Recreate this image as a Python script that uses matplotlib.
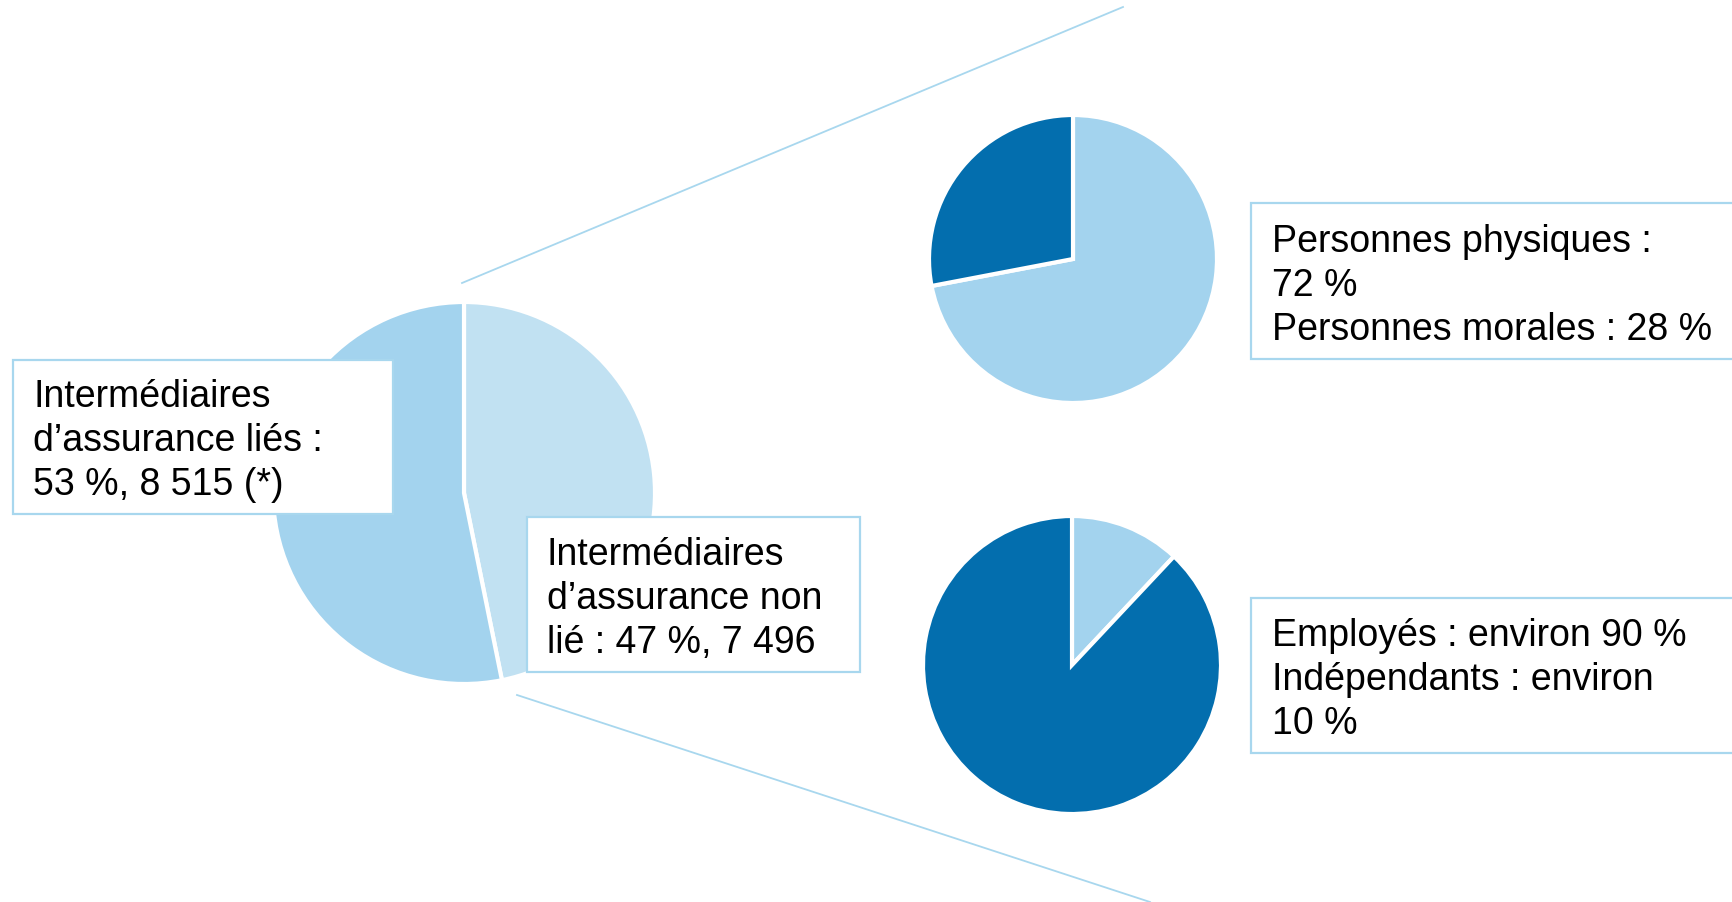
import matplotlib
matplotlib.use("Agg")
from matplotlib import pyplot as plt
from matplotlib.patches import Rectangle

plt.rcParams['font.family'] = ['Liberation Sans', 'DejaVu Sans']

# donnees
main_labels = ["Intermédiaires d'assurance non lié", "Intermédiaires d'assurance liés"]
main_counts = [7496, 8515]
pers_labels = ["Personnes physiques", "Personnes morales"]
pers_values = [72, 28]
emp_labels = ["Indépendants", "Employés"]
emp_values = [12, 88]

txt_lies = "Intermédiaires\nd’assurance liés :\n53 %, 8 515 (*)"
txt_nonlie = "Intermédiaires\nd’assurance non\nlié : 47 %, 7 496"
txt_pers = "Personnes physiques :\n72 %\nPersonnes morales : 28 %"
txt_emp = "Employés : environ 90 %\nIndépendants : environ\n10 %"

DARK = "#036EAE"
LIGHT = "#A3D3EE"
LIGHTER = "#C1E1F2"
EDGE = "#A8D7EE"

W, H = 1732, 903
fig = plt.figure(figsize=(W / 100, H / 100), dpi=100)
ax = fig.add_axes([0, 0, 1, 1])

def py(y):
    # pixel (depuis le haut) -> donnees
    return H - y

wp = dict(edgecolor="white", linewidth=3)
ax.pie(main_counts, colors=[LIGHTER, LIGHT], startangle=90, counterclock=False,
       center=(464, py(494)), radius=191, wedgeprops=wp, frame=True)
ax.pie(pers_values, colors=[LIGHT, DARK], startangle=90, counterclock=False,
       center=(1073, py(260)), radius=144, wedgeprops=wp, frame=True)
ax.pie(emp_values, colors=[LIGHT, DARK], startangle=90, counterclock=False,
       center=(1072, py(666)), radius=149, wedgeprops=wp, frame=True)

# lignes de liaison
ax.plot([462, 1123], [py(284), py(8)], color=EDGE, lw=1.3, zorder=1)
ax.plot([517, 1150], [py(696), py(903)], color=EDGE, lw=1.3, zorder=1)

def boite(x0, y0, x1, y1, txt, tx, ty):
    # ty = ligne de base de la derniere ligne
    ax.add_patch(Rectangle((x0, py(y1)), x1 - x0, y1 - y0, facecolor="white",
                           edgecolor=EDGE, lw=1.6, zorder=5))
    ax.text(tx, py(ty), txt, fontsize=27, va="baseline", ha="left",
            linespacing=1.29, color="black", zorder=6)

boite(13, 361, 393, 515, txt_lies, 33, 495)
boite(527, 518, 860, 673, txt_nonlie, 547, 653)
boite(1251, 204, 1745, 360, txt_pers, 1272, 340)
boite(1251, 599, 1745, 754, txt_emp, 1272, 734)

ax.set_xlim(0, W)
ax.set_ylim(0, H)
ax.set_aspect("equal")
ax.axis("off")

plt.savefig("out.png", dpi=100)
